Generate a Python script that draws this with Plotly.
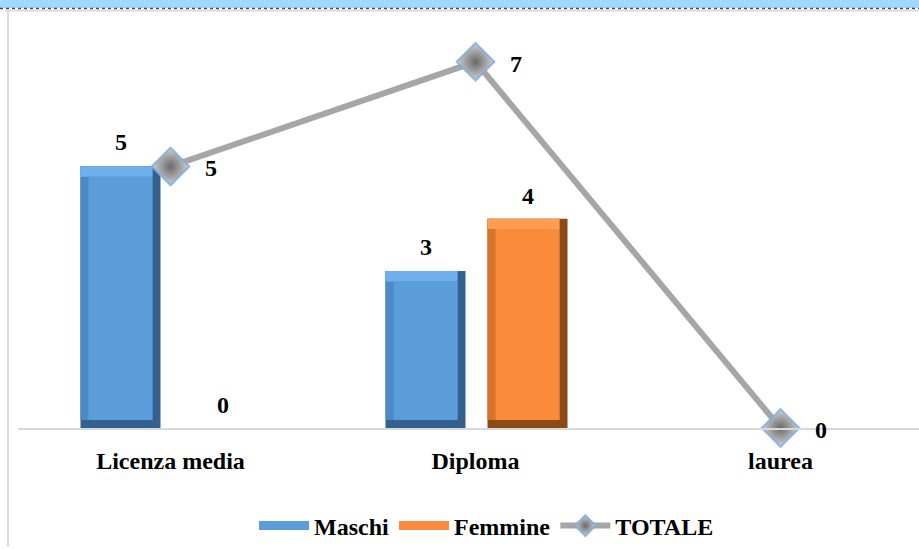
import plotly.graph_objects as go

categories = ["Licenza media", "Diploma", "laurea"]
maschi = [5, 3, None]
femmine = [0, 4, None]
totale = [5, 7, 0]

FONT = "Liberation Serif"
BOLD = dict(family=FONT, size=24, color="black", weight="bold")

CAT_PX = 305.0          # pixels per category
UNIT_PX = 52.6          # pixels per y unit
BAR_W = 80 / CAT_PX     # bar width in category units
BEV_X = 8 / CAT_PX
BEV_Y = 8 / UNIT_PX

fig = go.Figure()


def bevel_bar(name, values, offset, c_dark, c_left, c_top, c_face):
    vals = [v if (v is not None and v > 0) else None for v in values]
    # full bar: right / bottom edge
    fig.add_trace(go.Bar(x=categories, y=vals, offset=offset, width=BAR_W,
                         marker=dict(color=c_dark, line=dict(width=0)),
                         showlegend=False, hoverinfo="skip", name=name))
    # left strip
    fig.add_trace(go.Bar(x=categories, y=[None if v is None else v - BEV_Y for v in vals],
                         base=[BEV_Y] * len(vals), offset=offset, width=BAR_W - BEV_X,
                         marker=dict(color=c_left, line=dict(width=0)),
                         showlegend=False, hoverinfo="skip", name=name))
    # top strip
    fig.add_trace(go.Bar(x=categories, y=[None if v is None else BEV_Y * 1.3 for v in vals],
                         base=[None if v is None else v - BEV_Y * 1.3 for v in vals],
                         offset=offset, width=BAR_W - BEV_X,
                         marker=dict(color=c_top, line=dict(width=0)),
                         showlegend=False, hoverinfo="skip", name=name))
    # face
    fig.add_trace(go.Bar(x=categories, y=[None if v is None else v - BEV_Y * 2.3 for v in vals],
                         base=[BEV_Y] * len(vals), offset=offset + BEV_X,
                         width=BAR_W - 2 * BEV_X,
                         marker=dict(color=c_face, line=dict(width=0)),
                         showlegend=False, hoverinfo="skip", name=name))
    # legend entry
    fig.add_trace(go.Scatter(x=[None], y=[None], mode="lines", name=name,
                             line=dict(color=c_face, width=9)))


bevel_bar("Maschi", maschi, -90 / CAT_PX, "#33618F", "#4C8AC6", "#6FB0EC", "#5B9DDA")
bevel_bar("Femmine", femmine, 12 / CAT_PX, "#8C4A18", "#D9732C", "#FF9E52", "#F98B3B")

fig.add_trace(go.Scatter(
    name="TOTALE", x=categories, y=totale, mode="lines+markers",
    line=dict(color="#A6A6A6", width=6),
    marker=dict(symbol="diamond", size=29, color="#D2D2D2",
                gradient=dict(type="radial", color="#6A6A6A"),
                line=dict(color="rgba(120,170,230,0.8)", width=2)),
    cliponaxis=False,
))

annotations = []
for cat, v in zip(categories, maschi):
    if v is not None:
        annotations.append(dict(x=cat, y=v, xref="x", yref="y", text=str(v),
                                showarrow=False, xshift=-50, yshift=24, font=BOLD))
for cat, v in zip(categories, femmine):
    if v is not None:
        annotations.append(dict(x=cat, y=v, xref="x", yref="y", text=str(v),
                                showarrow=False, xshift=52, yshift=23, font=BOLD))
for cat, v in zip(categories, totale):
    annotations.append(dict(x=cat, y=v, xref="x", yref="y", text=str(v),
                            showarrow=False, xshift=40, yshift=-2, font=BOLD))

fig.update_layout(
    width=919, height=549,
    margin=dict(l=18, r=0, t=20, b=119),
    paper_bgcolor="white", plot_bgcolor="white",
    barmode="overlay",
    showlegend=True,
    annotations=annotations,
    legend=dict(orientation="h", x=0.52, xanchor="center", y=-0.185, yanchor="top",
                font=BOLD, itemwidth=50, traceorder="normal"),
    xaxis=dict(range=[-0.5, 2.454], showgrid=False, zeroline=False,
               showline=True, linecolor="#D9D9D9", linewidth=2,
               ticks="", ticklabelstandoff=10, tickfont=BOLD),
    yaxis=dict(range=[0, 7.8], visible=False),
)

H = 410.0
W = 901.0
def py(pix):
    return (549 - 119 - pix) / H
def px(pix):
    return (pix - 18) / W

fig.add_shape(type="rect", xref="paper", yref="paper", x0=px(0), x1=px(919),
              y0=py(8), y1=py(0), fillcolor="#A2D8FF", line=dict(width=0), layer="below")
fig.add_shape(type="line", xref="paper", yref="paper", x0=px(0), x1=px(919),
              y0=py(8.5), y1=py(8.5), line=dict(color="#3A4A5A", width=1.5, dash="dot"))
fig.add_shape(type="line", xref="paper", yref="paper", x0=px(5), x1=px(919),
              y0=py(10.5), y1=py(10.5), line=dict(color="#DADADA", width=2))
fig.add_shape(type="line", xref="paper", yref="paper", x0=px(8), x1=px(8),
              y0=py(549), y1=py(10), line=dict(color="#DADADA", width=2))

fig.write_html("out.html", config={"displayModeBar": False},
               post_script="document.body.style.margin='0';")
